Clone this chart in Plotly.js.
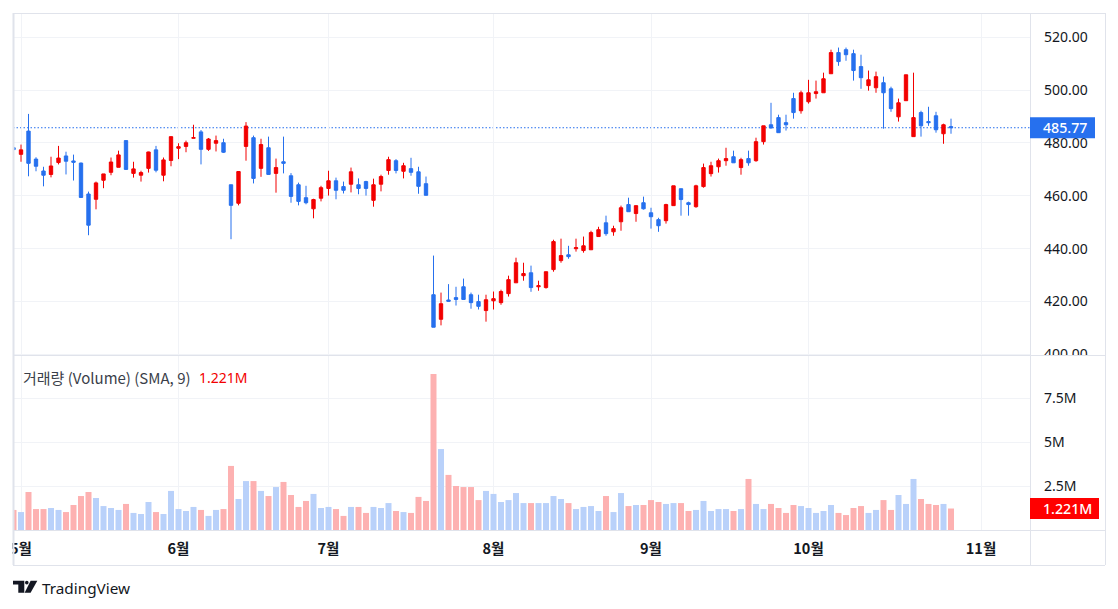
<!DOCTYPE html>
<html><head><meta charset="utf-8">
<script src="https://cdn.plot.ly/plotly-3.0.1.min.js"></script>
<style>html,body{margin:0;padding:0;background:#fff;overflow:hidden}</style></head>
<body><div id="chart" style="width:1118px;height:609px"></div>
<script>
const opens=[478.2,475.7,484.5,473.9,469.4,468.1,472.6,475.1,473.2,472.4,
460.7,458.7,465.9,468.9,470.8,480.9,468.5,467.8,470.4,477.4,
467.8,473.4,478.0,478.7,481.8,484.2,477.6,479.9,480.1,464.2,
457.2,478.7,482.0,470.4,478.2,468.5,472.9,467.6,464.2,459.3,
455.1,459.1,462.8,465.7,463.5,464.4,464.2,465.4,458.3,464.4,
469.6,473.3,469.3,470.3,469.1,464.6,422.6,413.3,420.6,421.5,
425.6,422.6,420.0,416.6,420.3,419.6,423.0,427.1,429.8,430.9,
425.6,425.3,432.1,435.5,437.7,440.0,439.3,439.6,444.6,449.8,
446.4,450.2,456.7,453.3,457.4,453.6,451.0,450.6,456.3,462.7,
457.4,455.9,463.5,468.4,471.0,473.3,474.8,470.7,474.1,473.3,
480.5,486.9,489.6,487.7,496.8,492.2,495.6,498.7,499.0,506.2,
514.2,515.3,513.8,508.9,501.7,500.9,502.8,500.5,489.9,496.0,
482.4,491.5,488.1,490.3,483.5,486.2];
const closes=[477.5,477.4,472.3,471.2,467.8,471.3,474.3,473.1,472.7,459.4,
448.9,464.9,468.3,472.8,475.5,470.0,470.2,468.8,476.6,469.7,
473.6,482.4,478.6,480.1,482.0,477.6,481.5,480.9,476.5,456.4,
469.2,486.4,466.6,479.4,468.1,470.7,472.3,459.8,457.9,457.4,
458.6,463.1,465.7,462.1,462.1,469.1,462.8,462.8,464.2,467.3,
473.7,469.6,471.4,468.9,463.6,460.2,410.3,419.2,420.1,420.8,
420.8,419.6,418.2,420.7,421.1,423.8,428.3,434.7,430.6,425.3,
426.0,431.3,442.7,437.4,437.0,440.4,441.1,446.1,447.2,445.7,
447.6,455.5,454.0,456.3,455.1,452.1,448.7,456.7,463.8,458.6,
456.7,463.8,470.7,471.4,473.3,474.1,472.5,473.7,472.5,480.5,
486.5,485.7,483.9,486.9,491.5,499.0,499.0,499.4,504.3,514.2,
510.8,513.4,507.4,504.7,503.9,505.1,499.0,493.0,495.2,505.8,
489.6,486.5,487.7,485.0,486.9,485.77];
const highs=[478.6,479.4,491.0,474.6,471.0,474.8,478.9,476.7,475.6,472.6,
461.6,465.4,468.3,474.5,477.1,480.9,472.9,469.5,476.7,478.9,
474.5,482.4,479.9,480.9,486.9,484.9,481.9,482.8,481.6,464.2,
469.2,487.9,482.8,481.6,482.4,474.1,482.4,468.6,465.0,463.8,
458.9,463.8,469.5,466.9,465.4,470.7,466.6,465.7,466.5,468.0,
474.8,473.9,472.5,474.4,471.0,467.3,437.4,423.4,426.6,425.6,
428.7,423.4,422.6,422.6,423.8,424.5,429.8,436.6,434.7,433.6,
427.9,431.3,443.4,443.8,441.1,443.8,444.6,446.8,448.3,452.5,
448.7,456.3,459.3,456.3,459.7,455.5,451.7,457.0,463.8,462.7,
457.8,464.2,472.2,472.9,474.1,478.2,477.1,474.4,477.1,482.0,
486.5,495.2,490.7,490.7,499.0,499.8,503.9,503.6,506.6,515.3,
516.1,516.1,515.3,513.4,507.4,507.0,505.1,501.3,496.8,505.8,
506.6,492.2,493.7,491.8,487.3,489.2];
const lows=[471.0,472.9,467.4,469.3,463.6,467.0,471.9,468.1,465.8,459.2,
445.1,454.9,462.9,467.8,470.8,469.9,466.9,465.4,468.8,468.9,
465.5,471.2,473.9,476.5,481.8,471.9,477.0,476.8,476.2,443.6,
456.4,473.3,464.7,467.2,468.0,461.2,468.5,457.4,456.4,456.8,
451.5,457.9,460.1,458.7,460.9,461.3,460.6,460.1,455.9,461.7,
468.0,468.5,466.6,467.6,460.8,460.2,410.3,411.0,420.0,418.5,
420.7,417.3,417.0,412.4,417.0,418.8,421.9,427.1,427.9,423.7,
424.1,424.9,431.3,434.7,436.2,438.9,438.5,439.6,444.6,444.9,
444.9,446.8,454.0,450.2,454.8,447.6,446.4,449.5,456.3,452.5,
452.5,455.5,463.1,467.3,468.8,471.4,472.5,468.0,471.4,472.9,
479.4,485.4,483.9,484.7,489.2,491.1,494.9,496.8,499.0,506.2,
509.2,511.1,503.6,500.5,499.8,499.0,485.4,491.8,488.1,496.0,
482.4,482.4,486.5,483.9,479.7,483.5];
const volumes=[1.14,1.02,2.16,1.19,1.19,1.25,1.14,1.02,1.42,1.93,
2.16,1.82,1.36,1.25,1.14,1.48,0.97,0.91,1.59,1.02,
0.91,2.22,1.19,1.08,1.31,1.14,0.80,1.14,1.19,3.64,
1.76,2.78,2.78,2.22,1.93,2.44,2.73,1.99,1.31,1.65,
2.05,1.25,1.31,1.19,0.80,1.31,1.31,0.97,1.31,1.25,
1.53,1.08,1.02,0.97,1.88,1.65,8.86,4.60,3.13,2.50,
2.44,2.44,1.70,2.22,2.05,1.59,1.70,2.10,1.53,1.53,
1.53,1.53,1.93,1.76,1.53,1.19,1.31,1.36,1.08,1.93,
1.02,2.10,1.36,1.42,1.42,1.70,1.59,1.48,1.53,1.53,
1.08,1.14,1.65,1.08,1.19,1.19,1.08,1.19,2.90,1.48,
1.19,1.48,1.25,0.97,1.42,1.36,1.25,0.97,1.08,1.42,
0.97,0.85,1.25,1.36,0.97,1.14,1.70,1.14,1.99,1.48,
2.90,1.76,1.48,1.42,1.48,1.221];
const monthIdx=[1,22,42,64,85,106,129];
const monthLabels=['5월','6월','7월','8월','9월','10월','11월'];
const priceTicks=[400,420,440,460,480,500,520];
const volTicks=[2.5,5,7.5];
const volLabels=['2.5M','5M','7.5M'];
const lastPrice=485.77, lastVol=1.221;
const volumeTitle='거래량 (Volume) (SMA, 9)', volumeText='1.221M', brand='TradingView';

const W=1118,H=609;
const RED='#f20000',BLUE='#2670ee',PINK='#fdb1b1',SKY='#b9d1fa',GRID='#f1f3f7',EDGE='#e0e3eb',INK='#131722';
const fx=p=>p/W, fy=p=>1-p/H;
const idx=opens.map((_,i)=>i);
const SANS='"Noto Sans","Noto Sans CJK KR",sans-serif', KR='"Noto Sans CJK KR","Noto Sans",sans-serif';
const volColors=opens.map((o,i)=>closes[i]>=o?SKY:PINK);

const traces=[
 {type:'candlestick',x:idx,open:opens,high:highs,low:lows,close:closes,xaxis:'x',yaxis:'y',whiskerwidth:0,
  increasing:{line:{color:RED,width:1},fillcolor:RED},decreasing:{line:{color:BLUE,width:1},fillcolor:BLUE},hoverinfo:'skip'},
 {type:'bar',x:idx,y:volumes,xaxis:'x',yaxis:'y2',marker:{color:volColors,line:{width:0}},hoverinfo:'skip'}
];
const pathPx=(pts)=>'M'+pts.map(p=>fx(p[0])+' '+fy(p[1])).join(' L')+' Z';
const seg=(x0,y0,x1,y1,c)=>({type:'line',xref:'paper',yref:'paper',x0:fx(x0),x1:fx(x1),y0:fy(y0),y1:fy(y1),line:{color:c||EDGE,width:1},layer:'above'});
const box=(x0,y0,x1,y1,c)=>({type:'rect',xref:'paper',yref:'paper',x0:fx(x0),x1:fx(x1),y0:fy(y0),y1:fy(y1),fillcolor:c,line:{width:0},layer:'above'});
const tagBox=(yref,val,x1,c)=>({type:'rect',xref:'paper',yref:yref,ysizemode:'pixel',yanchor:val,y0:-10.5,y1:10.5,x0:fx(1030),x1:fx(x1),fillcolor:c,line:{width:0},layer:'above'});
const shapes=[
 {type:'line',xref:'paper',yref:'y',x0:fx(13),x1:fx(1031),y0:lastPrice,y1:lastPrice,line:{color:BLUE,width:1,dash:'1.5px,2px'},layer:'below'},
 box(1032,356,1104,372,'#ffffff'),
 box(0,532,12.5,564,'#ffffff'),
 box(12.5,13,14.5,565,EDGE),
 seg(13,13.5,1105,13.5),seg(13,565.5,1105,565.5),seg(1105.5,13,1105.5,565),
 seg(1030.5,13,1030.5,565),seg(13,355.5,1105,355.5),seg(13,530.5,1105,530.5),
 tagBox('y',lastPrice,1095,BLUE),
 tagBox('y2',lastVol,1099,'#ff0000'),
 {type:'path',xref:'paper',yref:'paper',path:pathPx([[13,580.7],[24.3,580.7],[24.3,592.7],[18.3,592.7],[18.3,584.4],[13,584.4]]),fillcolor:INK,line:{width:0},layer:'above'},
 {type:'circle',xref:'paper',yref:'paper',x0:fx(25),x1:fx(28.6),y0:fy(580.7),y1:fy(584.4),fillcolor:INK,line:{width:0},layer:'above'},
 {type:'path',xref:'paper',yref:'paper',path:pathPx([[30.6,580.7],[37.3,580.7],[30.6,592.7],[24.6,592.7]]),fillcolor:INK,line:{width:0},layer:'above'}
];
const note=(text,x,y,size,color,family)=>({text:text,xref:'paper',yref:'paper',x:fx(x),y:fy(y),xanchor:'left',yanchor:'middle',showarrow:false,font:{size:size,color:color,family:family||SANS}});
const tag=(text,yref,val)=>({text:text,xref:'paper',yref:yref,x:fx(1040.5),y:val,xanchor:'left',yanchor:'middle',showarrow:false,font:{size:14.2,color:'#ffffff',family:SANS,weight:500}});
const annotations=[
 note(volumeTitle,21,377,15,'#3b3f4a',KR),
 note(volumeText,197,377,14,'#f20000',SANS),
 note(brand,39.5,587.5,15.3,INK,SANS),
 tag(lastPrice.toFixed(2),'y',lastPrice),
 tag(volumeText,'y2',lastVol)
];
const layout={
 width:W,height:H,autosize:false,margin:{l:0,r:0,t:0,b:0,pad:0},paper_bgcolor:'#fff',plot_bgcolor:'#fff',
 showlegend:false,dragmode:false,bargap:0.2,boxgap:0.36,
 font:{family:SANS,color:INK},
 xaxis:{domain:[fx(13),fx(1031)],range:[(13-13.5)/7.5,(1031-13.5)/7.5],anchor:'y2',rangeslider:{visible:false},
  tickmode:'array',tickvals:monthIdx,ticktext:monthLabels,showgrid:true,gridcolor:GRID,gridwidth:1,zeroline:false,showline:false,ticks:'',
  tickfont:{size:14.5,color:INK,family:KR,weight:600},ticklabelstandoff:8,automargin:false},
 yaxis:{domain:[fy(355.5),fy(14)],range:[399.6,528.8],anchor:'x',side:'right',tickmode:'array',tickvals:priceTicks,tickformat:'.2f',
  showgrid:true,gridcolor:GRID,gridwidth:1,zeroline:false,showline:false,ticks:'',tickfont:{size:14,color:INK,family:SANS},ticklabelstandoff:12,automargin:false},
 yaxis2:{domain:[fy(530),fy(356)],range:[0,9.886],anchor:'x',side:'right',tickmode:'array',tickvals:volTicks,ticktext:volLabels,
  showgrid:true,gridcolor:GRID,gridwidth:1,zeroline:false,showline:false,ticks:'',tickfont:{size:14,color:INK,family:SANS},ticklabelstandoff:12,automargin:false},
 shapes:shapes,annotations:annotations
};
Plotly.newPlot('chart',traces,layout,{staticPlot:true,displayModeBar:false});
</script></body></html>
